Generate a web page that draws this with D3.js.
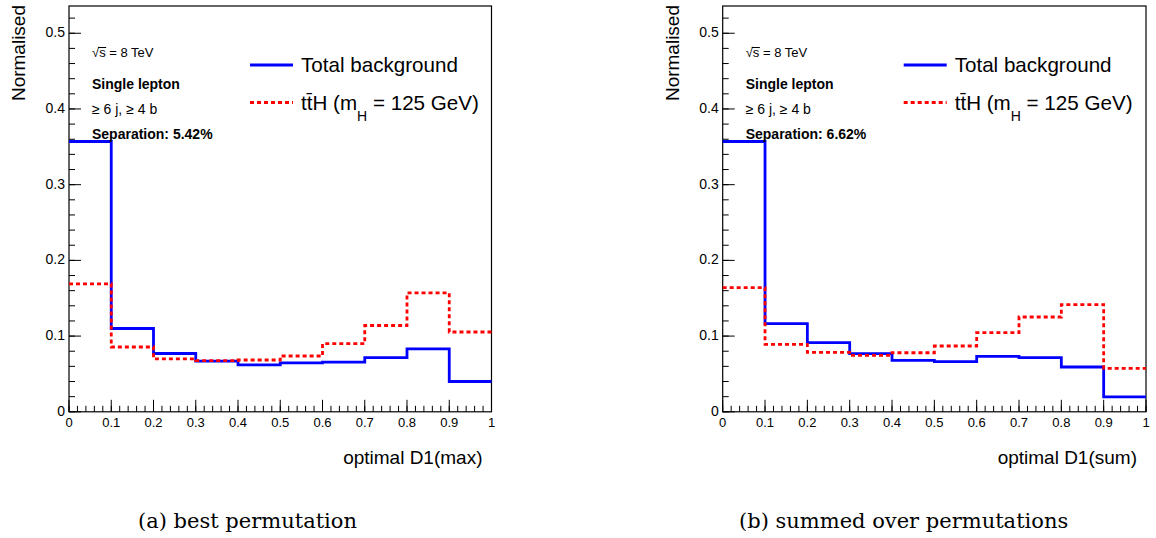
<!DOCTYPE html>
<html>
<head>
<meta charset="utf-8">
<script src="https://cdn.jsdelivr.net/npm/d3@7"></script>
<style>
  html, body { margin: 0; padding: 0; background: #fff; }
  svg { display: block; }
  text { font-family: "Liberation Sans", Arial, Helvetica, sans-serif; fill: #000; }
  .caption { font-family: "DejaVu Serif", "Liberation Serif", serif; }
</style>
</head>
<body>
<svg id="chart" width="1156" height="538"></svg>
<script>
// Bin edges of the discriminant histograms (10 bins on [0, 1])
const binEdges = [0, 0.1, 0.2, 0.3, 0.4, 0.5, 0.6, 0.7, 0.8, 0.9, 1.0];

// (a) best permutation: normalised bin contents
const bkgMax = [0.357, 0.110, 0.077, 0.067, 0.062, 0.0645, 0.0655, 0.0715, 0.083, 0.040];
const sigMax = [0.169, 0.0856, 0.0698, 0.0676, 0.0684, 0.0737, 0.090, 0.114, 0.157, 0.1054];

// (b) summed over permutations: normalised bin contents
const bkgSum = [0.357, 0.1164, 0.0913, 0.0768, 0.068, 0.0662, 0.0733, 0.0715, 0.0592, 0.0196];
const sigSum = [0.164, 0.0891, 0.0786, 0.0746, 0.078, 0.0869, 0.1045, 0.1252, 0.1415, 0.0574];

// Axis ticks
const xMajorTicks = [0, 0.1, 0.2, 0.3, 0.4, 0.5, 0.6, 0.7, 0.8, 0.9, 1];
const yMajorTicks = [0, 0.1, 0.2, 0.3, 0.4, 0.5];
const yMax = 0.536;

// Per-panel text
const panels = [
  { bkg: bkgMax, sig: sigMax, xTitle: "optimal D1(max)", separation: "Separation: 5.42%",
    caption: "(a)  best permutation", left: 69, right: 491.5, captionX: 138 },
  { bkg: bkgSum, sig: sigSum, xTitle: "optimal D1(sum)", separation: "Separation: 6.62%",
    caption: "(b)  summed over permutations", left: 722.7, right: 1146, captionX: 739 }
];

const svg = d3.select("#chart");
const frameTop = 6, frameBottom = 411.8;

panels.forEach(p => {
  const g = svg.append("g");
  const x = d3.scaleLinear().domain([0, 1]).range([p.left, p.right]);
  const y = d3.scaleLinear().domain([0, yMax]).range([frameBottom, frameTop]);

  // Frame
  g.append("rect")
    .attr("x", p.left).attr("y", frameTop)
    .attr("width", p.right - p.left).attr("height", frameBottom - frameTop)
    .attr("fill", "none").attr("stroke", "#000").attr("stroke-width", 1.2);

  // X axis: major + minor ticks pointing into the frame
  const xMinor = d3.range(0, 1.0001, 0.02);
  g.append("g").selectAll("line").data(xMinor).join("line")
    .attr("x1", d => x(d)).attr("x2", d => x(d))
    .attr("y1", frameBottom).attr("y2", frameBottom - 6)
    .attr("stroke", "#000").attr("stroke-width", 1);
  g.append("g").selectAll("line").data(xMajorTicks).join("line")
    .attr("x1", d => x(d)).attr("x2", d => x(d))
    .attr("y1", frameBottom).attr("y2", frameBottom - 12)
    .attr("stroke", "#000").attr("stroke-width", 1);
  g.append("g").selectAll("text").data(xMajorTicks).join("text")
    .attr("x", d => x(d)).attr("y", 427)
    .attr("text-anchor", "middle").attr("font-size", 13)
    .text(d => d3.format("~g")(d));

  // Y axis: major + minor ticks
  const yMinor = d3.range(0, yMax, 0.02);
  g.append("g").selectAll("line").data(yMinor).join("line")
    .attr("x1", p.left).attr("x2", p.left + 6)
    .attr("y1", d => y(d)).attr("y2", d => y(d))
    .attr("stroke", "#000").attr("stroke-width", 1);
  g.append("g").selectAll("line").data(yMajorTicks).join("line")
    .attr("x1", p.left).attr("x2", p.left + 12)
    .attr("y1", d => y(d)).attr("y2", d => y(d))
    .attr("stroke", "#000").attr("stroke-width", 1);
  g.append("g").selectAll("text").data(yMajorTicks).join("text")
    .attr("x", p.left - 4).attr("y", d => y(d) + 4)
    .attr("text-anchor", "end").attr("font-size", 14)
    .text(d => d3.format("~g")(d));

  // Axis titles
  g.append("text")
    .attr("transform", `translate(${p.left - 44},5) rotate(-90)`)
    .attr("text-anchor", "end").attr("font-size", 19)
    .text("Normalised");
  g.append("text")
    .attr("x", p.right - 9).attr("y", 464)
    .attr("text-anchor", "end").attr("font-size", 19)
    .text(p.xTitle);

  // Step histograms
  const stepLine = d3.line()
    .x(d => x(d[0])).y(d => y(d[1]))
    .curve(d3.curveStepAfter);
  const toPoints = vals => vals.map((v, i) => [binEdges[i], v]).concat([[binEdges[vals.length], vals[vals.length - 1]]]);

  g.append("path").datum(toPoints(p.bkg))
    .attr("d", stepLine).attr("fill", "none")
    .attr("stroke", "#0000ff").attr("stroke-width", 2.8);
  g.append("path").datum(toPoints(p.sig))
    .attr("d", stepLine).attr("fill", "none")
    .attr("stroke", "#ff0000").attr("stroke-width", 2.8)
    .attr("stroke-dasharray", "4,3");

  // Labels inside the frame
  const tx = p.left + 23;
  const sqrtText = g.append("text").attr("x", tx).attr("y", 57).attr("font-size", 13)
    .text("\u221As = 8 TeV");
  // overbar of the square root across "s"
  const node = sqrtText.node();
  const rootEnd = node.getEndPositionOfChar(0).x;
  const sEnd = node.getEndPositionOfChar(1).x;
  g.append("line").attr("x1", rootEnd - 1).attr("x2", sEnd + 0.5)
    .attr("y1", 47.5).attr("y2", 47.5)
    .attr("stroke", "#000").attr("stroke-width", 1);

  g.append("text").attr("x", tx).attr("y", 89).attr("font-size", 14)
    .attr("font-weight", "bold").text("Single lepton");
  g.append("text").attr("x", tx).attr("y", 114).attr("font-size", 14)
    .text("\u2265 6 j, \u2265 4 b");
  g.append("text").attr("x", tx).attr("y", 139).attr("font-size", 14)
    .attr("font-weight", "bold").text(p.separation);

  // Legend
  const lx = p.left + 181;
  g.append("line").attr("x1", lx).attr("x2", lx + 43).attr("y1", 65).attr("y2", 65)
    .attr("stroke", "#0000ff").attr("stroke-width", 2.8);
  g.append("text").attr("x", lx + 51).attr("y", 72).attr("font-size", 20.6)
    .text("Total background");
  g.append("line").attr("x1", lx).attr("x2", lx + 43).attr("y1", 102.5).attr("y2", 102.5)
    .attr("stroke", "#ff0000").attr("stroke-width", 2.8).attr("stroke-dasharray", "4,3");
  const sigLabel = g.append("text").attr("x", lx + 51).attr("y", 110).attr("font-size", 20.6);
  sigLabel.append("tspan").text("t");
  sigLabel.append("tspan").text("t\u0304");
  sigLabel.append("tspan").text("H (m");
  sigLabel.append("tspan").attr("font-size", 14).attr("dy", 11).text("H");
  sigLabel.append("tspan").attr("dy", -11).text(" = 125 GeV)");

  // Sub-figure caption
  svg.append("text").attr("class", "caption")
    .attr("x", p.captionX).attr("y", 528).attr("font-size", 21)
    .text(p.caption);
});
</script>
</body>
</html>
